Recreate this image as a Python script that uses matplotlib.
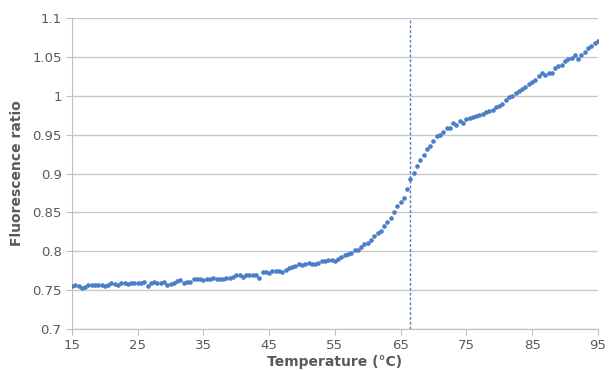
import matplotlib
matplotlib.use("Agg")
import matplotlib.pyplot as plt

temperature = [
    15.0, 15.5, 16.0, 16.5, 17.0, 17.5, 18.0, 18.5, 19.0, 19.5,
    20.0, 20.5, 21.0, 21.5, 22.0, 22.5, 23.0, 23.5, 24.0, 24.5,
    25.0, 25.5, 26.0, 26.5, 27.0, 27.5, 28.0, 28.5, 29.0, 29.5,
    30.0, 30.5, 31.0, 31.5, 32.0, 32.5, 33.0, 33.5, 34.0, 34.5,
    35.0, 35.5, 36.0, 36.5, 37.0, 37.5, 38.0, 38.5, 39.0, 39.5,
    40.0, 40.5, 41.0, 41.5, 42.0, 42.5, 43.0, 43.5, 44.0, 44.5,
    45.0, 45.5, 46.0, 46.5, 47.0, 47.5, 48.0, 48.5, 49.0, 49.5,
    50.0, 50.5, 51.0, 51.5, 52.0, 52.5, 53.0, 53.5, 54.0, 54.5,
    55.0, 55.5, 56.0, 56.5, 57.0, 57.5, 58.0, 58.5, 59.0, 59.5,
    60.0, 60.5, 61.0, 61.5, 62.0, 62.5, 63.0, 63.5, 64.0, 64.5,
    65.0, 65.5, 66.0, 66.5, 67.0, 67.5, 68.0, 68.5, 69.0, 69.5,
    70.0, 70.5, 71.0, 71.5, 72.0, 72.5, 73.0, 73.5, 74.0, 74.5,
    75.0, 75.5, 76.0, 76.5, 77.0, 77.5, 78.0, 78.5, 79.0, 79.5,
    80.0, 80.5, 81.0, 81.5, 82.0, 82.5, 83.0, 83.5, 84.0, 84.5,
    85.0, 85.5, 86.0, 86.5, 87.0, 87.5, 88.0, 88.5, 89.0, 89.5,
    90.0, 90.5, 91.0, 91.5, 92.0, 92.5, 93.0, 93.5, 94.0, 94.5,
    95.0,
]

ratio = [
    0.755, 0.756, 0.755, 0.753, 0.754, 0.756, 0.757, 0.757, 0.756, 0.756,
    0.755, 0.757, 0.759, 0.758, 0.756, 0.759, 0.759, 0.758, 0.759, 0.759,
    0.759, 0.759, 0.760, 0.755, 0.759, 0.760, 0.759, 0.759, 0.760, 0.757,
    0.758, 0.759, 0.762, 0.763, 0.759, 0.760, 0.761, 0.764, 0.764, 0.764,
    0.763, 0.764, 0.764, 0.765, 0.764, 0.764, 0.764, 0.765, 0.765, 0.767,
    0.769, 0.770, 0.767, 0.770, 0.769, 0.770, 0.770, 0.766, 0.773, 0.773,
    0.772, 0.774, 0.774, 0.775, 0.773, 0.776, 0.778, 0.780, 0.781, 0.783,
    0.782, 0.784, 0.785, 0.783, 0.784, 0.785, 0.787, 0.788, 0.789, 0.789,
    0.788, 0.790, 0.793, 0.795, 0.797, 0.798, 0.802, 0.802, 0.806, 0.809,
    0.810, 0.814, 0.819, 0.824, 0.826, 0.832, 0.837, 0.843, 0.850, 0.858,
    0.864, 0.869, 0.880, 0.893, 0.901, 0.910, 0.917, 0.924, 0.931, 0.936,
    0.942, 0.948, 0.950, 0.953, 0.959, 0.959, 0.965, 0.962, 0.968, 0.965,
    0.970, 0.972, 0.973, 0.974, 0.975, 0.977, 0.979, 0.981, 0.982, 0.985,
    0.987, 0.990, 0.995, 0.998, 1.000, 1.003, 1.006, 1.009, 1.011, 1.015,
    1.018, 1.020, 1.025, 1.029, 1.027, 1.029, 1.030, 1.036, 1.038, 1.040,
    1.045, 1.047, 1.049, 1.052, 1.048, 1.053, 1.056, 1.061, 1.064, 1.068,
    1.071,
]

tm_line = 66.5
x_ticks = [15, 25, 35, 45, 55, 65, 75, 85, 95]
y_ticks = [0.7, 0.75, 0.8, 0.85, 0.9, 0.95, 1.0, 1.05, 1.1]
y_tick_labels = ["0.7", "0.75", "0.8", "0.85", "0.9", "0.95", "1", "1.05", "1.1"]

text_color = "#595959"
blue = "#4a7ec6"

fig = plt.figure(figsize=(6.1, 3.7), dpi=100)
ax = fig.add_axes([0.118, 0.111, 0.862, 0.840])

ax.scatter(temperature, ratio, s=11, color=blue, zorder=3, linewidths=0)
ax.axvline(tm_line, color=blue, linewidth=1, linestyle=(0, (2, 1.5)), zorder=2)

ax.set_xlim(15, 95)
ax.set_ylim(0.7, 1.1)
ax.set_xticks(x_ticks)
ax.set_yticks(y_ticks)
ax.set_yticklabels(y_tick_labels)

ax.grid(axis="y", color="#c8c8c8", linewidth=1)
ax.set_axisbelow(True)
for side in ["top", "right"]:
    ax.spines[side].set_visible(False)
for side in ["left", "bottom"]:
    ax.spines[side].set_color("#bfbfbf")
ax.tick_params(colors="#bfbfbf", labelcolor=text_color, labelsize=9.5, length=4)

ax.set_xlabel("Temperature (°C)", color=text_color, fontsize=10, fontweight="bold", labelpad=2)
ax.set_ylabel("Fluorescence ratio", color=text_color, fontsize=10, fontweight="bold", labelpad=6)

fig.savefig("out.png", dpi=100)
